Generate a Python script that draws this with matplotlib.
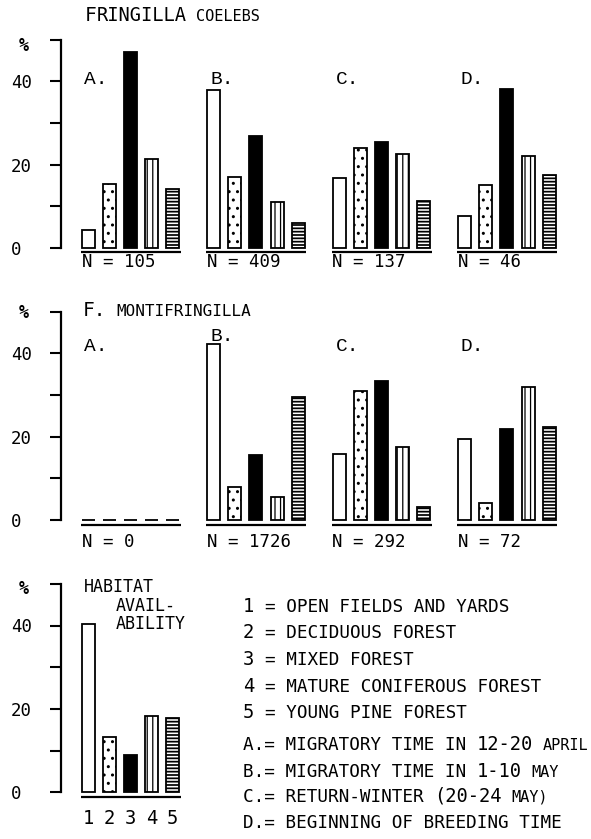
import numpy as np
import matplotlib
matplotlib.use("Agg")
import matplotlib.pyplot as plt

plt.rcParams["font.family"] = ["DejaVu Sans Mono", "DejaVu Sans"]
plt.rcParams["hatch.linewidth"] = 1.0
plt.rcParams["hatch.color"] = "black"

# ---------------------------------------------------------------- data
periods = ["A.", "B.", "C.", "D."]
habitat_codes = ["1", "2", "3", "4", "5"]

# % of observations in habitats 1..5 for each period A..D
coelebs_pct = [
    [4.3, 15.3, 46.9, 21.3, 14.2],
    [37.9, 17.0, 26.9, 11.0, 6.1],
    [16.7, 24.1, 25.4, 22.6, 11.3],
    [7.7, 15.0, 38.1, 22.1, 17.6],
]
coelebs_n = [105, 409, 137, 46]

montifringilla_pct = [
    [0, 0, 0, 0, 0],
    [42.3, 8.0, 15.5, 5.4, 29.4],
    [15.9, 31.0, 33.4, 17.5, 3.1],
    [19.4, 4.0, 21.9, 32.0, 22.4],
]
montifringilla_n = [0, 1726, 292, 72]

availability_pct = [40.3, 13.3, 8.9, 18.3, 17.8]

habitat_names = [
    "OPEN FIELDS AND YARDS",
    "DECIDUOUS FOREST",
    "MIXED FOREST",
    "MATURE CONIFEROUS FOREST",
    "YOUNG PINE FOREST",
]

# ---------------------------------------------------------------- styling
W, H = 591, 839
PX_PER_PCT = 4.17
SLOT_PX = 21.2                 # distance between neighbouring bars
AX_LEFT_PX = 61
FIRST_SLOT = (88 - AX_LEFT_PX) / SLOT_PX
GROUP_STEP = 125.5 / SLOT_PX
BAR_W = 13 / SLOT_PX

FILLS = ["white", "white", "black", "white", "white"]
HATCHES = [None, "..", None, "|||", "-----"]
HATCH_LW = [1.0, 1.0, 1.0, 0.9, 1.25]

BIG, MED, SMALL = 13.5, 12.7, 11
PT = 0.72                      # points per pixel at 100 dpi
MONO_ADV = 0.602               # advance width of DejaVu Sans Mono, in em

fig = plt.figure(figsize=(W / 100, H / 100), dpi=100)
fig.patch.set_facecolor("white")


def typed(x_px, y_px, segments):
    """Monospaced line made of runs of different glyph sizes on one baseline."""
    x = x_px
    for s, size in segments:
        adv = MONO_ADV * size / PT
        lead = len(s) - len(s.lstrip(" "))
        body = s.lstrip(" ")
        if body:
            fig.text((x + lead * adv) / W, 1 - y_px / H, body,
                     fontsize=size, ha="left", va="baseline", color="black")
        x += len(s) * adv


def make_axes(zero_px, pct_dy_px):
    ax = fig.add_axes([AX_LEFT_PX / W, (H - zero_px) / H,
                       (W - AX_LEFT_PX) / W, 50 * PX_PER_PCT / H])
    ax.set_xlim(0, (W - AX_LEFT_PX) / SLOT_PX)
    ax.set_ylim(0, 50)
    ax.patch.set_alpha(0)
    for side in ("top", "right", "bottom"):
        ax.spines[side].set_visible(False)
    ax.spines["left"].set_linewidth(1.6)
    ax.spines["left"].set_bounds(0, 50)
    ax.set_xticks([])
    ax.set_yticks([0, 10, 20, 30, 40, 50])
    ax.set_yticklabels(["0", "", "20", "", "40", ""])
    ax.tick_params(axis="y", direction="out", length=8, width=1.5,
                   labelsize=12.5, pad=28)
    for lbl in ax.get_yticklabels():
        lbl.set_horizontalalignment("left")
    ax.annotate("%", xy=(0, 50), xycoords=("axes fraction", "data"),
                xytext=(-37 * PT, -pct_dy_px * PT), textcoords="offset points",
                ha="center", va="center", fontsize=12, fontweight="bold")
    return ax


def draw_group(ax, g, values, base_dy_px):
    xs = FIRST_SLOT + g * GROUP_STEP + np.arange(len(values))
    bars = ax.bar(xs, values, width=BAR_W, color=FILLS, edgecolor="black",
                  linewidth=1.3, clip_on=False, zorder=3)
    for patch, hatch, hlw in zip(bars, HATCHES, HATCH_LW):
        if hatch:
            patch.set_hatch(hatch)
            if hasattr(patch, "set_hatch_linewidth"):
                patch.set_hatch_linewidth(hlw)
    left = xs[0] - BAR_W / 2
    right = xs[-1] + BAR_W / 2
    ax.plot([left - 0.03, right + 0.08], [-base_dy_px / PX_PER_PCT] * 2,
            color="black", lw=1.6, clip_on=False, solid_capstyle="butt")
    return xs, left


# ---------------------------------------------------------------- rows
row_specs = [
    dict(zero=248, data=coelebs_pct, n=coelebs_n, pct_dy=6.5, base_dy=3.7,
         n_dy=14, letter_y=[40.3, 40.3, 40.5, 40.5]),
    dict(zero=520, data=montifringilla_pct, n=montifringilla_n, pct_dy=2,
         base_dy=5, n_dy=21.7, letter_y=[41.5, 44.0, 41.7, 41.7]),
]

for spec in row_specs:
    ax = make_axes(spec["zero"], spec["pct_dy"])
    for g, vals in enumerate(spec["data"]):
        xs, left = draw_group(ax, g, vals, spec["base_dy"])
        ax.annotate(f"N = {spec['n'][g]}", xy=(left, 0), xytext=(0, -spec["n_dy"] * PT),
                    textcoords="offset points", ha="left", va="center", fontsize=12.5)
        ax.annotate(periods[g], xy=(left, spec["letter_y"][g]), xytext=(3 * PT, 0),
                    textcoords="offset points", ha="left", va="center",
                    fontsize=14, family="Liberation Mono")

# habitat availability
ax = make_axes(792.3, 5)
xs, left = draw_group(ax, 0, availability_pct, 4.7)
for x, code in zip(xs, habitat_codes):
    ax.annotate(code, xy=(x, 0), xytext=(0, -26 * PT), textcoords="offset points",
                ha="center", va="center", fontsize=13.5)

# ---------------------------------------------------------------- headings
typed(85, 21, [("F", 14), ("RINGILLA", 13.5), (" COELEBS", 11)])
typed(83, 316, [("F.", 14), (" MONTIFRINGILLA", 11.5)])

typed(84, 592, [("HABITAT", 12)])
typed(116, 611, [("AVAIL-", 12)])
typed(116, 629, [("ABILITY", 12)])

# ---------------------------------------------------------------- key
legend_x = 243
for i, (code, name) in enumerate(zip(habitat_codes, habitat_names)):
    typed(legend_x, 612 + i * 26.5, [(code, BIG), (" = " + name, MED)])

typed(legend_x, 750, [("A.= MIGRATORY TIME IN ", MED), ("12-20", BIG), (" APRIL", SMALL)])
typed(legend_x, 777, [("B.= MIGRATORY TIME IN ", MED), ("1-10", BIG), (" MAY", SMALL)])
typed(legend_x, 802, [("C.= RETURN-WINTER ", MED), ("(20-24", BIG), (" MAY)", SMALL)])
typed(legend_x, 828, [("D.= BEGINNING OF BREEDING TIME", MED)])

fig.savefig("out.png", dpi=100, facecolor="white")
